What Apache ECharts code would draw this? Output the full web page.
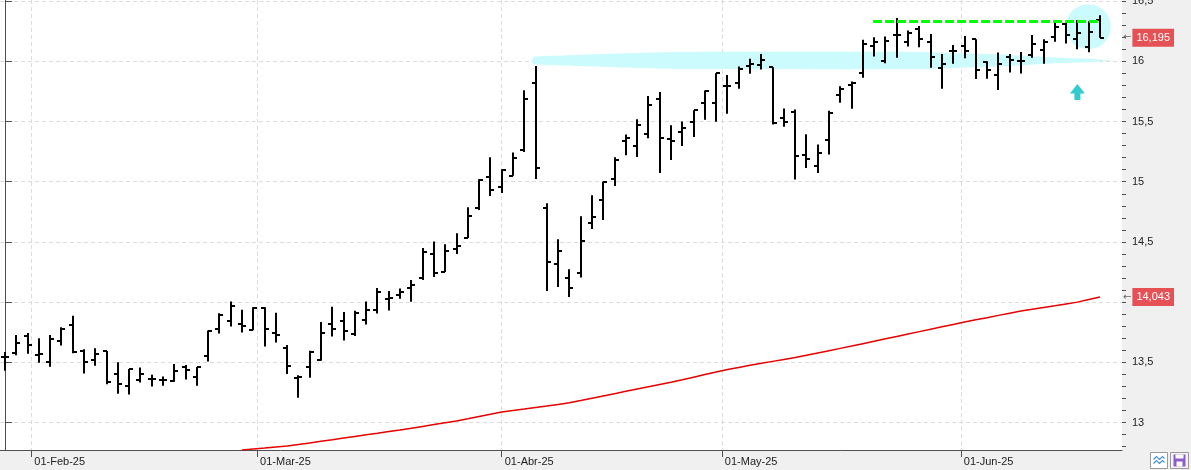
<!DOCTYPE html>
<html>
<head>
<meta charset="utf-8">
<script src="https://cdn.jsdelivr.net/npm/echarts@6/dist/echarts.min.js"></script>
<style>
  html, body { margin: 0; padding: 0; background: #f0f0f0; }
  #chart { width: 1191px; height: 470px; }
</style>
</head>
<body>
<div id="chart"></div>
<script>
// daily bars, 29-Jan-25 .. 18-Jun-25 (trading days only)
const openVals = [13.542, 13.578, 13.717, 13.558, 13.503, 13.675, 13.811, 13.597, 13.517, 13.592,
  13.400, 13.303, 13.353, 13.358, 13.350, 13.342, 13.458, 13.375, 13.550, 13.775,
  13.844, 13.822, 13.767, 13.953, 13.742, 13.622, 13.372, 13.461, 13.517, 13.817,
  13.844, 13.739, 13.853, 13.936, 14.028, 14.058, 14.117, 14.197, 14.403, 14.251,
  14.445, 14.533, 14.783, 15.035, 14.952, 15.051, 15.264, 15.817, 14.785, 14.317,
  14.204, 14.245, 14.655, 14.852, 15.024, 15.342, 15.295, 15.400, 15.691, 15.358,
  15.414, 15.492, 15.650, 15.650, 15.792, 15.817, 15.961, 15.969, 15.950, 15.533,
  15.575, 15.225, 15.133, 15.350, 15.717, 15.800, 15.900, 16.131, 16.000, 16.222,
  16.158, 16.271, 16.158, 15.942, 16.083, 16.130, 16.183, 15.997, 15.884, 16.036,
  16.000, 16.055, 16.094, 16.200, 16.310, 16.186, 16.116, 16.343];
const highVals = [13.586, 13.728, 13.744, 13.700, 13.728, 13.792, 13.886, 13.608, 13.617, 13.594,
  13.500, 13.444, 13.458, 13.397, 13.383, 13.486, 13.478, 13.461, 13.764, 13.908,
  14.006, 13.936, 13.958, 13.958, 13.911, 13.644, 13.392, 13.597, 13.836, 13.961,
  13.919, 13.928, 14.006, 14.117, 14.092, 14.114, 14.183, 14.450, 14.503, 14.481,
  14.572, 14.788, 15.021, 15.204, 15.104, 15.242, 15.760, 15.960, 14.821, 14.522,
  14.273, 14.713, 14.888, 15.000, 15.204, 15.392, 15.519, 15.711, 15.744, 15.469,
  15.500, 15.594, 15.758, 15.900, 15.886, 15.956, 16.022, 16.061, 15.950, 15.608,
  15.600, 15.394, 15.308, 15.589, 15.792, 15.833, 16.178, 16.200, 16.205, 16.360,
  16.255, 16.294, 16.227, 16.061, 16.136, 16.210, 16.183, 16.000, 16.072, 16.061,
  16.078, 16.219, 16.183, 16.341, 16.321, 16.343, 16.332, 16.382];
const lowVals = [13.431, 13.558, 13.572, 13.497, 13.464, 13.639, 13.575, 13.408, 13.472, 13.317,
  13.239, 13.233, 13.333, 13.300, 13.306, 13.339, 13.358, 13.306, 13.506, 13.739,
  13.797, 13.747, 13.767, 13.631, 13.664, 13.403, 13.206, 13.372, 13.514, 13.714,
  13.681, 13.719, 13.814, 13.906, 13.931, 14.028, 14.003, 14.183, 14.208, 14.251,
  14.400, 14.533, 14.766, 14.882, 14.907, 15.049, 15.247, 15.022, 14.093, 14.126,
  14.043, 14.204, 14.608, 14.683, 14.965, 15.220, 15.206, 15.361, 15.073, 15.181,
  15.297, 15.372, 15.514, 15.497, 15.564, 15.772, 15.897, 15.931, 15.475, 15.456,
  15.019, 15.114, 15.072, 15.225, 15.656, 15.606, 15.864, 16.039, 15.983, 16.030,
  16.122, 16.116, 15.947, 15.773, 15.980, 16.025, 15.853, 15.856, 15.762, 15.906,
  15.898, 16.030, 15.980, 16.163, 16.147, 16.100, 16.075, 16.195];
const closeVals = [13.542, 13.661, 13.642, 13.569, 13.692, 13.778, 13.589, 13.503, 13.567, 13.333,
  13.317, 13.444, 13.400, 13.358, 13.350, 13.428, 13.436, 13.458, 13.764, 13.889,
  13.967, 13.800, 13.953, 13.775, 13.725, 13.467, 13.381, 13.586, 13.742, 13.775,
  13.761, 13.911, 13.933, 14.083, 14.033, 14.083, 14.144, 14.417, 14.244, 14.422,
  14.470, 14.719, 15.018, 14.935, 15.098, 15.193, 15.683, 15.117, 14.337, 14.428,
  14.121, 14.506, 14.711, 15.000, 15.184, 15.367, 15.467, 15.633, 15.361, 15.336,
  15.450, 15.592, 15.750, 15.900, 15.792, 15.933, 15.975, 16.011, 15.489, 15.492,
  15.217, 15.192, 15.242, 15.567, 15.767, 15.822, 16.147, 16.161, 16.172, 16.219,
  16.238, 16.183, 16.033, 15.978, 16.083, 16.083, 15.925, 15.925, 15.981, 16.011,
  16.000, 16.147, 16.158, 16.288, 16.219, 16.233, 16.241, 16.195];

// long moving average (red), enters the visible range in late February
const maVals = [null, null, null, null, null, null, null, null, null, null,
  null, null, null, null, null, null, null, null, null, null,
  null, 12.771, 12.780, 12.788, 12.797, 12.805, 12.818, 12.831, 12.845, 12.858,
  12.872, 12.885, 12.898, 12.911, 12.925, 12.938, 12.953, 12.968, 12.983, 12.998,
  13.013, 13.031, 13.050, 13.069, 13.088, 13.100, 13.112, 13.125, 13.137, 13.150,
  13.165, 13.183, 13.202, 13.221, 13.240, 13.259, 13.278, 13.297, 13.316, 13.335,
  13.355, 13.377, 13.399, 13.420, 13.441, 13.458, 13.475, 13.492, 13.508, 13.524,
  13.540, 13.559, 13.578, 13.597, 13.616, 13.635, 13.655, 13.675, 13.695, 13.715,
  13.735, 13.755, 13.775, 13.795, 13.815, 13.835, 13.853, 13.871, 13.890, 13.908,
  13.926, 13.941, 13.956, 13.970, 13.985, 14.000, 14.021, 14.043];

// month ticks sit between trading days (weekend / holiday)
const monthTicks = [2.33, 22.33, 44, 63.5, 84.67];
const monthLabels = ['01-Feb-25', '01-Mar-25', '01-Abr-25', '01-May-25', '01-Jun-25'];
const priceTicks = [13, 13.5, 14, 14.5, 15, 15.5, 16, 16.5];
const minorTicks = [];
for (let v = 128; v <= 165; v++) minorTicks.push(v / 10);

const lastPrice = 16.195;
const lastMa = 14.043;
const resistance = 16.333;

// hand drawn annotations (index / price units)
const zoneCenter = 16.007;
const zoneIdx = [46.8, 49.6, 51.8, 54.5, 58.0, 63.3, 81.0, 84.6, 88.1, 90.8, 93.5, 96.5, 98.05];
const zoneHalf = [0.029, 0.042, 0.050, 0.058, 0.068, 0.072, 0.071, 0.060, 0.051, 0.035, 0.022, 0.012, 0];
const circleAt = [95.97, 16.287];
const circleRadius = 0.187;
const arrowAt = [95.0, 15.745];

const fmt = v => String(v).replace('.', ',');
const monthLabel = v => {
    for (let i = 0; i < monthTicks.length; i++) {
        if (Math.abs(monthTicks[i] - v) < 0.05) return monthLabels[i];
    }
    return '';
};

function renderBar(params, api) {
    const i = api.value(0);
    const pO = api.coord([i, api.value(1)]);
    const pH = api.coord([i, api.value(2)]);
    const pL = api.coord([i, api.value(3)]);
    const pC = api.coord([i, api.value(4)]);
    const x = Math.round(pH[0]);
    const yo = Math.round(pO[1]);
    const yc = Math.round(pC[1]);
    const st = { stroke: '#000', lineWidth: 2 };
    return {
        type: 'group',
        children: [
            { type: 'line', shape: { x1: x, y1: pH[1], x2: x, y2: pL[1] }, style: st },
            { type: 'line', shape: { x1: x - 4, y1: yo, x2: x, y2: yo }, style: st },
            { type: 'line', shape: { x1: x, y1: yc, x2: x + 4, y2: yc }, style: st }
        ]
    };
}

function renderZone(params, api) {
    const top = zoneIdx.map((x, i) => api.coord([x, zoneCenter + zoneHalf[i]]));
    const bottom = zoneIdx.map((x, i) => api.coord([x, zoneCenter - zoneHalf[i]])).reverse();
    const c = api.coord(circleAt);
    const r = api.size([0, circleRadius])[1];
    return {
        type: 'group',
        children: [
            { type: 'polygon', shape: { points: top.concat(bottom), smooth: 0.2 }, style: { fill: '#ccfbfd' } },
            { type: 'circle', shape: { cx: c[0], cy: c[1], r: r }, style: { fill: '#ccfbfd' } }
        ]
    };
}

const chart = echarts.init(document.getElementById('chart'));
const bars = openVals.map((o, i) => [i, o, highVals[i], lowVals[i], closeVals[i]]);
const maData = maVals.map((v, i) => [i, v]);

const axisColor = '#505050';
const labelFont = { color: '#222', fontSize: 11, fontFamily: 'Liberation Sans, Arial, sans-serif' };

chart.setOption({
    backgroundColor: '#f0f0f0',
    animation: false,
    grid: {
        left: 0, right: 69, top: 0, bottom: 20,
        show: true, backgroundColor: '#fff', borderWidth: 0,
        outerBoundsMode: 'none'
    },
    xAxis: {
        type: 'value',
        min: -0.44, max: 98.95,
        axisLine: { show: true, onZero: false, lineStyle: { color: axisColor } },
        axisTick: { show: true, customValues: monthTicks, length: 7, lineStyle: { color: axisColor } },
        axisLabel: Object.assign({
            show: true,
            customValues: monthTicks,
            align: 'left', margin: 6,
            formatter: v => ' ' + monthLabel(v)
        }, labelFont),
        splitLine: { show: true, lineStyle: { color: '#dcdcdc', type: [4, 3] } }
    },
    yAxis: [{
        type: 'value', position: 'right',
        min: 12.772, max: 16.509,
        axisLine: { show: true, lineStyle: { color: axisColor } },
        axisTick: { show: true, customValues: priceTicks, length: 7, lineStyle: { color: axisColor } },
        axisLabel: Object.assign({ customValues: priceTicks, margin: 10, formatter: v => fmt(v) }, labelFont),
        splitLine: { show: true, lineStyle: { color: '#dcdcdc', type: [4, 3] } }
    }, {
        type: 'value', position: 'right',
        min: 12.772, max: 16.509,
        axisLine: { show: false },
        axisTick: { show: true, customValues: minorTicks, length: 4, lineStyle: { color: axisColor } },
        axisLabel: { show: false },
        splitLine: { show: false }
    }],
    series: [{
        type: 'custom', name: 'zona', z: 1, silent: true, clip: false,
        renderItem: renderZone,
        data: [[zoneIdx[0], zoneCenter]],
        markLine: {
            silent: true, symbol: 'none', precision: 3,
            lineStyle: { color: 'rgba(0,0,0,0)', width: 0 },
            label: {
                show: true,
                position: 'end', distance: 1,
                formatter: p => '{a|\u2190}{b|' + fmt(p.value) + '}',
                rich: {
                    a: { color: '#666', fontSize: 10, fontFamily: 'DejaVu Sans', padding: [0, 1, 0, 0] },
                    b: {
                        color: '#fff', backgroundColor: '#e65156', fontSize: 11,
                        fontFamily: 'Liberation Sans, Arial, sans-serif',
                        padding: [4, 4, 3, 4]
                    }
                }
            },
            data: [{ yAxis: lastPrice }, { yAxis: lastMa }]
        }
    }, {
        type: 'custom', name: 'OHLC', z: 3,
        renderItem: renderBar,
        encode: { x: 0, y: [1, 2, 3, 4] },
        data: bars,
        markLine: {
            silent: true, symbol: 'none',
            data: [
                [{ coord: [76.9, resistance] }, { coord: [97, resistance] }]
            ],
            lineStyle: { color: '#00ff00', width: 3, type: [9, 3] },
            label: { show: false }
        }
    }, {
        type: 'line', name: 'media', z: 2,
        data: maData,
        showSymbol: false,
        lineStyle: { color: '#e60000', width: 1.5 },
        markPoint: {
            silent: true,
            symbol: 'path://M7.5,0 L15,9.5 L10.5,9.5 L10.5,16 L4.5,16 L4.5,9.5 L0,9.5 Z',
            symbolSize: [15, 16],
            itemStyle: { color: '#33cccc' },
            label: { show: false },
            data: [{ coord: arrowAt }]
        }
    }],
    graphic: [{
        type: 'group', left: 1150, top: 452,
        children: [
            { type: 'rect', shape: { x: 0, y: 0, width: 17, height: 16 }, style: { fill: '#fff', stroke: '#9a9a9a' } },
            { type: 'polyline', shape: { points: [[3, 7], [6, 4], [9, 7], [12, 4], [14, 6]] }, style: { stroke: '#4a90d9', lineWidth: 1.2, fill: null } },
            { type: 'polyline', shape: { points: [[3, 11], [6, 8], [9, 11], [12, 8], [14, 10]] }, style: { stroke: '#4a90d9', lineWidth: 1.2, fill: null } },
            { type: 'rect', shape: { x: 20, y: 0, width: 18, height: 16 }, style: { fill: '#f4f4f4', stroke: '#9a9a9a' } },
            { type: 'rect', shape: { x: 23, y: 2, width: 12, height: 12 }, style: { fill: '#8e5cc9' } },
            { type: 'rect', shape: { x: 25, y: 2, width: 8, height: 4 }, style: { fill: '#fff' } },
            { type: 'rect', shape: { x: 26, y: 9, width: 6, height: 5 }, style: { fill: '#fff' } }
        ]
    }]
});
</script>
</body>
</html>
